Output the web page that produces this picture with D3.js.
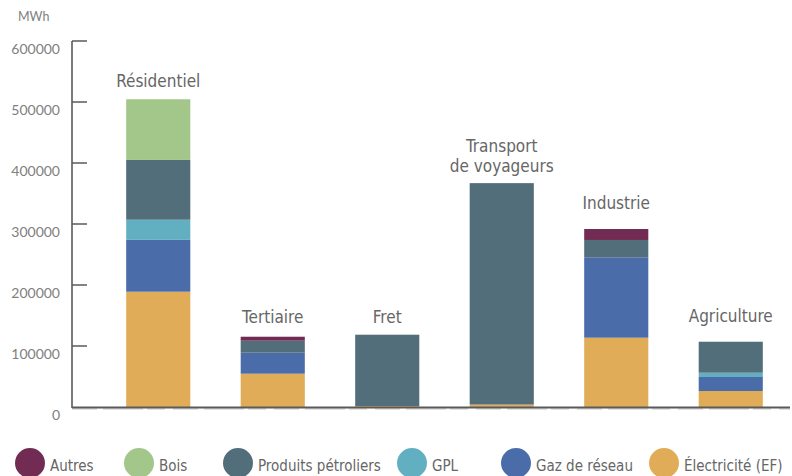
<!DOCTYPE html>
<html>
<head>
<meta charset="utf-8">
<script src="https://cdn.jsdelivr.net/npm/d3@7"></script>
<style>
  body { margin: 0; background: #fff; }
  svg { display: block; }
</style>
</head>
<body>
<svg id="chart" width="792" height="476"></svg>
<script>
const categories = [`Résidentiel`, `Tertiaire`, `Fret`, `Transport de voyageurs`, `Industrie`, `Agriculture`];
const energies = [`Électricité (EF)`, `Gaz de réseau`, `GPL`, `Produits pétroliers`, `Bois`, `Autres`];
const legendOrder = [`Autres`, `Bois`, `Produits pétroliers`, `GPL`, `Gaz de réseau`, `Électricité (EF)`];

// values per energy, in category order (MWh)
const electricite = [189000, 54600, 1500, 4000, 113600, 26200];
const gazReseau = [85000, 34400, 0, 0, 131800, 23000];
const gpl = [33000, 0, 0, 0, 0, 7000];
const petroliers = [98000, 19700, 117000, 363000, 28400, 50800];
const bois = [99500, 0, 0, 0, 0, 0];
const autres = [0, 6500, 0, 0, 18000, 0];

const yTicks = [0, 100000, 200000, 300000, 400000, 500000, 600000];

const colors = {
    [`Autres`]: `#722c53`,
    [`Bois`]: `#a3c68a`,
    [`Produits pétroliers`]: `#526e7b`,
    [`GPL`]: `#62afc2`,
    [`Gaz de réseau`]: `#4a6daa`,
    [`Électricité (EF)`]: `#e0ac57`
};

const seriesByEnergy = {
    [`Électricité (EF)`]: electricite,
    [`Gaz de réseau`]: gazReseau,
    [`GPL`]: gpl,
    [`Produits pétroliers`]: petroliers,
    [`Bois`]: bois,
    [`Autres`]: autres
};

const table = categories.map((c, i) => {
    const row = { cat: c };
    energies.forEach(e => { row[e] = seriesByEnergy[e][i]; });
    return row;
});

const handFont = `'DejaVu Sans Condensed', 'DejaVu Sans', sans-serif`;
const tickFont = `Lato, 'Open Sans', sans-serif`;
// gap (px) between bar top and its label, per category
const labelGap = [12, 14, 12, 11, 20, 20];

const svg = d3.select(`#chart`);

const x = d3.scaleBand()
    .domain(categories)
    .range([101, 788])
    .paddingInner(0.44)
    .paddingOuter(0.22);

const y = d3.scaleLinear()
    .domain([0, 600000])
    .range([407, 41]);

const stack = d3.stack().keys(energies);
const layers = stack(table);

svg.append(`g`)
    .selectAll(`g`)
    .data(layers)
    .join(`g`)
    .attr(`fill`, d => colors[d.key])
    .selectAll(`rect`)
    .data(d => d)
    .join(`rect`)
    .attr(`x`, d => x(d.data.cat))
    .attr(`width`, x.bandwidth())
    .attr(`y`, d => y(d[1]))
    .attr(`height`, d => y(d[0]) - y(d[1]));

// sketchy axes
const axisColor = `#5a5a5a`;
const axisG = svg.append(`g`);
axisG.append(`line`)
    .attr(`x1`, 72).attr(`x2`, 72)
    .attr(`y1`, y(600000)).attr(`y2`, y(0) + 1)
    .attr(`stroke`, axisColor).attr(`stroke-width`, 1.6);
axisG.append(`line`)
    .attr(`x1`, 72).attr(`x2`, 790)
    .attr(`y1`, y(0) + 0.5).attr(`y2`, y(0) + 0.5)
    .attr(`stroke`, axisColor).attr(`stroke-width`, 2);
axisG.append(`line`)
    .attr(`x1`, 72).attr(`x2`, 790)
    .attr(`y1`, y(0) + 1.8).attr(`y2`, y(0) + 1.8)
    .attr(`stroke`, `#999`).attr(`stroke-width`, 1)
    .attr(`stroke-dasharray`, `25 6 40 4 18 8`);

axisG.selectAll(`.tick`)
    .data(yTicks.filter(t => t > 0))
    .join(`line`)
    .attr(`x1`, 72).attr(`x2`, 87)
    .attr(`y1`, d => y(d)).attr(`y2`, d => y(d))
    .attr(`stroke`, axisColor).attr(`stroke-width`, 1.5);

axisG.selectAll(`.tickLabel`)
    .data(yTicks)
    .join(`text`)
    .attr(`x`, 60)
    .attr(`y`, d => y(d) + 13)
    .attr(`text-anchor`, `end`)
    .attr(`font-family`, tickFont)
    .attr(`font-size`, 14)
    .attr(`fill`, `#808080`)
    .text(d => d);

svg.append(`text`)
    .attr(`x`, 18).attr(`y`, 21)
    .attr(`font-family`, tickFont)
    .attr(`font-size`, 12.5)
    .attr(`fill`, `#808080`)
    .text(`MWh`);

// category labels
const totals = table.map(r => d3.sum(energies, e => r[e]));
const labelG = svg.append(`g`);
categories.forEach((c, i) => {
    const cx = x(c) + x.bandwidth() / 2;
    const top = y(totals[i]);
    const lines = c === `Transport de voyageurs` ? [`Transport`, `de voyageurs`] : [c];
    lines.forEach((l, j) => {
        labelG.append(`text`)
            .attr(`x`, cx)
            .attr(`y`, top - labelGap[i] - (lines.length - 1 - j) * 20)
            .attr(`text-anchor`, `middle`)
            .attr(`font-family`, handFont)
            .attr(`font-size`, 17)
            .attr(`fill`, `#666`)
            .text(l);
    });
});

// legend
const legendX = [30, 139, 238, 412, 516, 664];
const legend = svg.append(`g`)
    .selectAll(`g`)
    .data(legendOrder)
    .join(`g`)
    .attr(`transform`, (d, i) => `translate(${legendX[i]}, 463)`);
legend.append(`circle`)
    .attr(`r`, 15)
    .attr(`fill`, d => colors[d]);
legend.append(`text`)
    .attr(`x`, 20)
    .attr(`y`, 8)
    .attr(`font-family`, handFont)
    .attr(`font-size`, 15)
    .attr(`fill`, `#666`)
    .text(d => d);
</script>
</body>
</html>
